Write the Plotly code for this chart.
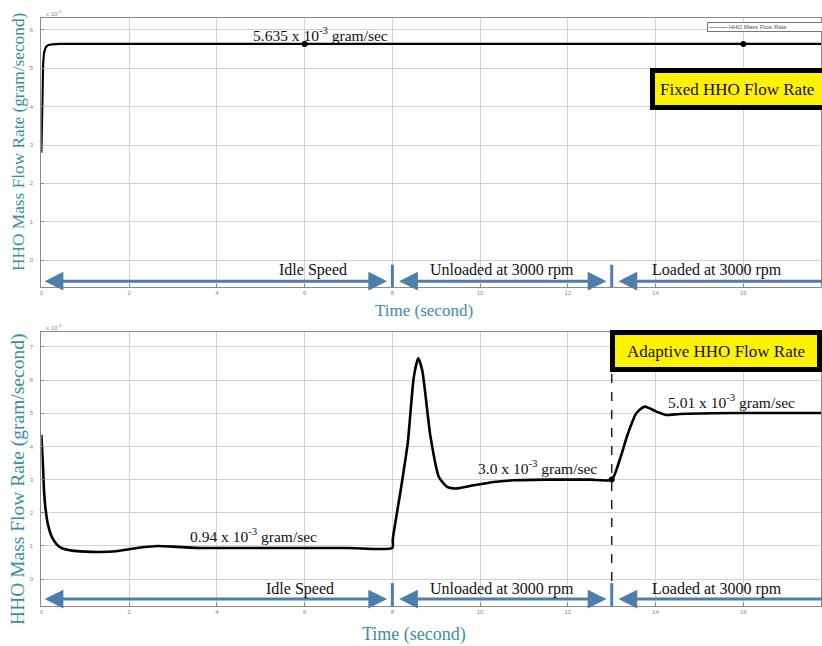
import plotly.graph_objects as go

# ---------------- data ----------------
# Fixed HHO flow rate (x1e-3 g/s)
fixed_t = [0.0, 0.02, 0.04, 0.06, 0.1, 0.15, 0.25, 0.4, 2.0, 6.0, 10.0, 14.0, 16.0, 17.8]
fixed_v = [2.8, 4.3, 5.1, 5.4, 5.55, 5.6, 5.625, 5.635, 5.635, 5.635, 5.635, 5.635, 5.635, 5.635]

# Adaptive HHO flow rate (x1e-3 g/s)
adapt_t = [0.0, 0.03, 0.06, 0.09, 0.15, 0.24, 0.35, 0.47, 0.7, 1.0, 1.3, 1.7, 2.0, 2.3, 2.66,
           3.0, 3.4, 3.65, 5.0, 7.0, 8.0, 8.01, 8.19, 8.35, 8.49, 8.59, 8.68, 8.87, 9.06,
           9.25, 9.44, 9.86, 10.31, 10.76, 11.5, 12.5, 13.0, 13.18, 13.37, 13.56, 13.75,
           14.02, 14.24, 14.55, 15.3, 16.5, 17.8]
adapt_v = [4.35, 3.6, 2.7, 2.18, 1.65, 1.27, 1.05, 0.93, 0.86, 0.83, 0.82, 0.84, 0.9, 0.96, 1.0,
           0.98, 0.95, 0.94, 0.94, 0.94, 0.94, 1.2, 2.68, 4.09, 6.1, 6.66, 6.3, 4.29, 3.08,
           2.78, 2.73, 2.83, 2.93, 2.98, 3.0, 3.0, 3.0, 3.59, 4.39, 5.0, 5.2,
           5.05, 4.95, 4.98, 5.0, 5.01, 5.01]

fixed_dot_t = [6, 16]
fixed_dot_v = [5.635, 5.635]
adapt_dot_t = [13]
adapt_dot_v = [3.0]

series_name = "HHO Mass Flow Rate"

phase_bounds = [0, 8, 13, 18.2]
phase_labels = ["Idle Speed", "Unloaded at 3000 rpm", "Loaded at 3000 rpm"]
phase_label_x_top = [6.2, 10.5, 15.4]
phase_label_x_bot = [5.9, 10.5, 15.4]

value_labels_bot = ["0.94 x 10<sup>-3</sup> gram/sec", "3.0 x 10<sup>-3</sup> gram/sec",
                    "5.01 x 10<sup>-3</sup> gram/sec"]
value_label_pos_bot = [(4.83, 1.32), (11.3, 3.38), (15.73, 5.38)]
value_label_top = "5.635 x 10<sup>-3</sup> gram/sec"
value_label_pos_top = (6.37, 5.9)

# ---------------- style ----------------
W, H = 822, 646
TEAL = "#3a8ea2"
BLUE = "#4d7eae"
SERIF = "Liberation Serif, Times New Roman, serif"
XR = [0, 17.77]

def py(px):
    return 1 - px / H

fig = go.Figure()

fig.add_trace(go.Scatter(x=fixed_t, y=fixed_v, mode="lines", line=dict(color="black", width=2.2),
                         name=series_name, xaxis="x", yaxis="y", showlegend=False))
fig.add_trace(go.Scatter(x=fixed_dot_t, y=fixed_dot_v, mode="markers", marker=dict(color="black", size=6),
                         xaxis="x", yaxis="y", showlegend=False))
fig.add_trace(go.Scatter(x=adapt_t, y=adapt_v, mode="lines", line=dict(color="black", width=2.6, shape="spline", smoothing=0.6),
                         name=series_name, xaxis="x2", yaxis="y2", showlegend=False))
fig.add_trace(go.Scatter(x=adapt_dot_t, y=adapt_dot_v, mode="markers", marker=dict(color="black", size=6),
                         xaxis="x2", yaxis="y2", showlegend=False))

axis_common = dict(showgrid=True, gridcolor="#d2d2d2", gridwidth=1, zeroline=False,
                   showline=True, mirror=True, linecolor="#8a8a8a", linewidth=1,
                   ticks="inside", ticklen=3, tickcolor="#888",
                   tickfont=dict(size=6, color="#888", family="Arial"))

xdom = [39.5 / W, 1.0]
fig.update_layout(
    width=W, height=H, margin=dict(l=0, r=0, t=0, b=0),
    paper_bgcolor="white", plot_bgcolor="white",
    xaxis=dict(domain=xdom, range=XR, dtick=2, tick0=0, anchor="y", **axis_common),
    yaxis=dict(domain=[py(287), py(18)], range=[-0.70, 6.31], dtick=1, tick0=0, anchor="x",
               ticklabelstandoff=6, **axis_common),
    xaxis2=dict(domain=xdom, range=XR, dtick=2, tick0=0, anchor="y2", **axis_common),
    yaxis2=dict(domain=[py(606), py(332)], range=[-0.81, 7.45], dtick=1, tick0=0, anchor="x2",
                ticklabelstandoff=6, **axis_common),
    showlegend=False,
)

shapes = []
annotations = []

# dashed line at t=13 in adaptive panel
shapes.append(dict(type="line", xref="x2", yref="y2", x0=13, x1=13, y0=-0.6, y1=7.45,
                   line=dict(color="#222", width=1.5, dash="dash")))

for (xr, yr, arrow_y, sep_bot, lab_y, lab_xs) in [
        ("x", "y", -0.55, -0.70, -0.26, phase_label_x_top),
        ("x2", "y2", -0.60, -0.81, -0.30, phase_label_x_bot)]:
    for b in phase_bounds[1:3]:
        shapes.append(dict(type="line", xref=xr, yref=yr, x0=b, x1=b, y0=-0.12, y1=sep_bot,
                           line=dict(color=BLUE, width=3)))
    for i in range(3):
        x0 = phase_bounds[i] + (0.04 if i == 0 else 0.12)
        x1 = phase_bounds[i + 1] - 0.12
        side = "end+start" if i < 2 else "start"
        annotations.append(dict(x=x1, y=arrow_y, ax=x0, ay=arrow_y, xref=xr, yref=yr,
                                axref=xr, ayref=yr, text="", showarrow=True,
                                arrowhead=2, arrowsize=1.25, arrowwidth=3, arrowcolor=BLUE,
                                arrowside=side, startarrowhead=2, startarrowsize=1.25))
        annotations.append(dict(x=lab_xs[i], y=lab_y, xref=xr, yref=yr, text=phase_labels[i],
                                xanchor="center", yanchor="middle",
                                showarrow=False, font=dict(family=SERIF, size=16, color="#111")))

# value labels
annotations.append(dict(x=value_label_pos_top[0], y=value_label_pos_top[1], xref="x", yref="y",
                        text=value_label_top, showarrow=False, xanchor="center", yanchor="middle",
                        font=dict(family=SERIF, size=15.5, color="#111")))
for txt, (vx, vy) in zip(value_labels_bot, value_label_pos_bot):
    annotations.append(dict(x=vx, y=vy, xref="x2", yref="y2", text=txt, showarrow=False,
                            xanchor="center", yanchor="middle",
                            font=dict(family=SERIF, size=15.5, color="#111")))

# small legend box (top panel)
annotations.append(dict(x=708 / W, y=py(22), xref="paper", yref="paper", xanchor="left", yanchor="top",
                        text="<b>———</b> " + series_name, showarrow=False, align="left",
                        font=dict(family="Arial", size=6, color="#555"),
                        bgcolor="white", bordercolor="#777", borderwidth=1, borderpad=1,
                        width=118))

# yellow title boxes
annotations.append(dict(x=650 / W, y=py(68), xref="paper", yref="paper", xanchor="left", yanchor="top",
                        text="Fixed HHO Flow Rate", showarrow=False, align="left",
                        font=dict(family=SERIF, size=17, color="#111"),
                        bgcolor="#fff200", bordercolor="black", borderwidth=5, borderpad=5,
                        width=200, height=22))
annotations.append(dict(x=610 / W, y=py(330), xref="paper", yref="paper", xanchor="left", yanchor="top",
                        text="Adaptive HHO Flow Rate", showarrow=False, align="center",
                        font=dict(family=SERIF, size=17, color="#111"),
                        bgcolor="#fff200", bordercolor="black", borderwidth=5, borderpad=5,
                        width=192, height=22))

# axis titles
annotations.append(dict(x=16 / W, y=py(142), xref="paper", yref="paper", textangle=-90,
                        xanchor="center", yanchor="middle",
                        text="HHO Mass Flow Rate (gram/second)", showarrow=False,
                        font=dict(family=SERIF, size=17.3, color=TEAL)))
annotations.append(dict(x=16 / W, y=py(479), xref="paper", yref="paper", textangle=-90,
                        xanchor="center", yanchor="middle",
                        text="HHO Mass Flow Rate (gram/second)", showarrow=False,
                        font=dict(family=SERIF, size=19.5, color=TEAL)))
annotations.append(dict(x=424 / W, y=py(310), xref="paper", yref="paper",
                        xanchor="center", yanchor="middle",
                        text="Time (second)", showarrow=False,
                        font=dict(family=SERIF, size=17, color=TEAL)))
annotations.append(dict(x=414 / W, y=py(634), xref="paper", yref="paper",
                        xanchor="center", yanchor="middle",
                        text="Time (second)", showarrow=False,
                        font=dict(family=SERIF, size=18, color=TEAL)))

# exponent markers
for yy in [py(13), py(327)]:
    annotations.append(dict(x=42 / W, y=yy, xref="paper", yref="paper", xanchor="left",
                            yanchor="middle",
                            text="x 10<sup>-3</sup>", showarrow=False,
                            font=dict(family="Arial", size=6, color="#888")))

fig.update_layout(shapes=shapes, annotations=annotations)
fig.write_html("out.html", config={"displayModeBar": False},
               post_script="document.body.style.margin='0';document.body.style.overflow='hidden';")
